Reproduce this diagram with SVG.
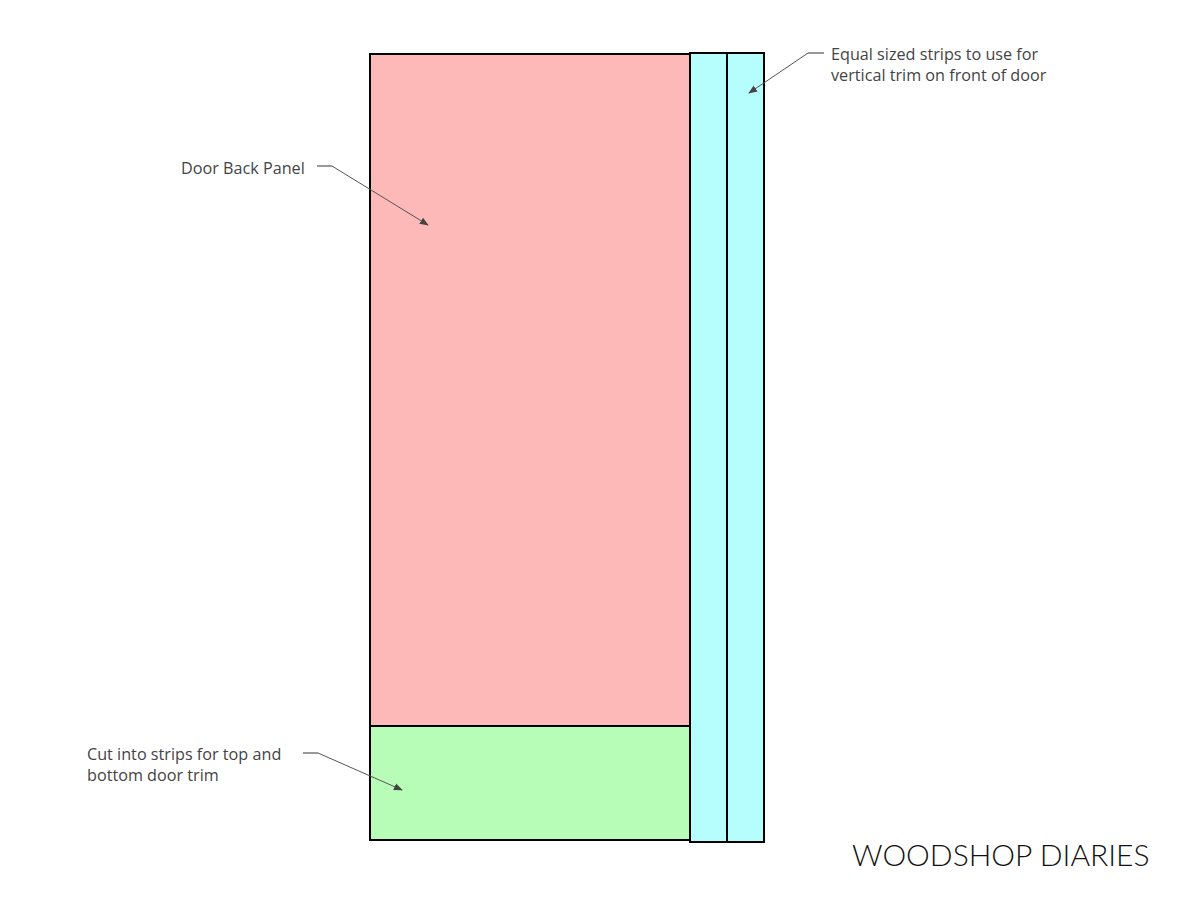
<svg xmlns="http://www.w3.org/2000/svg" width="1200" height="912" viewBox="0 0 1200 912">
<style>
.lbl{font-family:"Open Sans","Noto Sans",sans-serif;font-size:16.2px;fill:#444}
.brd{stroke:#000;stroke-width:2}
.ldr{fill:none;stroke:#555;stroke-width:1}
.stub{fill:none;stroke:#777;stroke-width:1.5}
</style>
<defs>
<marker id="ah" viewBox="0 0 10 10" refX="9" refY="5" markerWidth="9" markerHeight="9" markerUnits="userSpaceOnUse" orient="auto">
<path d="M0,1 L10,5 L0,9 z" fill="#444"/>
</marker>
</defs>
<rect width="1200" height="912" fill="#fff"/>
<g id="back-panel"><rect class="brd" x="370" y="54" width="320" height="672" fill="#fdb8b8"/></g>
<g id="bottom-strip"><rect class="brd" x="370" y="726" width="320" height="114" fill="#b8fdb7"/></g>
<g id="strip-1"><rect class="brd" x="690" y="53" width="37" height="789" fill="#b6fefe"/></g>
<g id="strip-2"><rect class="brd" x="727" y="53" width="37" height="789" fill="#b6fefe"/></g>
<g id="connectors">
<path class="stub" d="M317,166 H332"/>
<path class="ldr" d="M332,166 L428,225" marker-end="url(#ah)"/>
<path class="stub" d="M824,53 H808"/>
<path class="ldr" d="M808,53 L749,93" marker-end="url(#ah)"/>
<path class="stub" d="M303,753 H318"/>
<path class="ldr" d="M318,753 L402,790" marker-end="url(#ah)"/>
</g>
<g id="labels">
<text class="lbl" x="181" y="174">Door Back Panel</text>
<text class="lbl" x="831" y="60">Equal sized strips to use for</text>
<text class="lbl" x="831" y="81">vertical trim on front of door</text>
<text class="lbl" x="87" y="760">Cut into strips for top and</text>
<text class="lbl" x="87" y="781">bottom door trim</text>
<text x="852" y="866" style="font-family:Lato,sans-serif;font-weight:300;font-size:30px;fill:#111">WOODSHOP DIARIES</text>
</g>
</svg>
